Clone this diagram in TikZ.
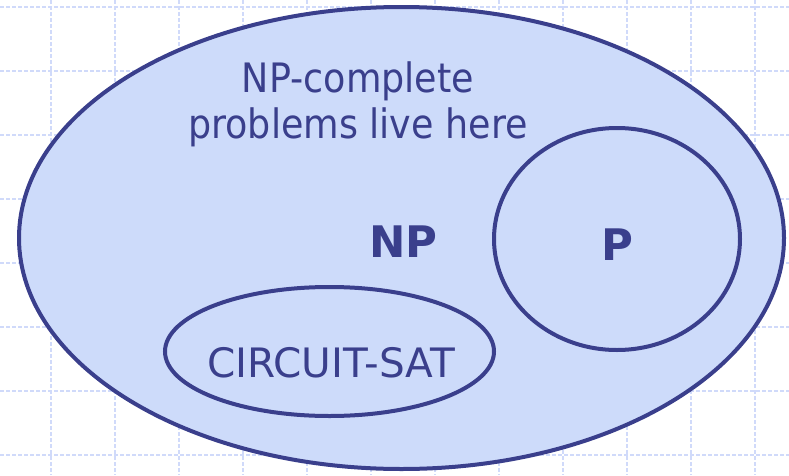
\documentclass[tikz,border=0pt]{standalone}
\usepackage{fontspec}
\setmainfont{DejaVu Sans}
\newfontfamily\narrowfont{DejaVu Sans}[FakeStretch=0.9]

\definecolor{setline}{RGB}{58,63,140}
\definecolor{setfill}{RGB}{205,219,250}
\definecolor{gridblue}{RGB}{208,218,250}

\tikzset{every picture/.style={line width=0.75pt}}
\tikzset{
  gridline/.style={color=gridblue, line width=1pt, dash pattern={on 3pt off 1.5pt}},
  setborder/.style={draw=setline, fill=setfill, line width=3pt},
  setlabel/.style={text=setline, anchor=base, inner sep=0pt}
}

\begin{document}
\begin{tikzpicture}[x=0.75pt,y=0.75pt,yscale=-1,xscale=1]
\useasboundingbox (0,0) rectangle (789,475);

%Background grid
\foreach \gx in {51,115,...,755} \draw [gridline] (\gx,0) -- (\gx,475);
\foreach \gy in {7,71,...,455} \draw [gridline] (0,\gy) -- (789,\gy);

%Shape: Ellipse (NP)
\draw [setborder] (401.5,238) ellipse [x radius=382.5, y radius=231];
%Shape: Circle (P)
\draw [setborder] (617,239) ellipse [x radius=123, y radius=111];
%Shape: Ellipse (CIRCUIT-SAT)
\draw [setborder] (329.5,351.5) ellipse [x radius=164.5, y radius=64.5];

% Text Node
\node (npc) [setlabel, align=center, font=\narrowfont\fontsize{30.4}{34.5}\selectfont] at (358,138) {NP-complete\\problems live here};
% Text Node
\node (np) [setlabel, font=\bfseries\fontsize{32.6}{39}\selectfont] at (403.5,257) {NP};
% Text Node
\node (p) [setlabel, font=\bfseries\fontsize{32.6}{39}\selectfont] at (617.5,260) {P};
% Text Node
\node (csat) [setlabel, font=\fontsize{30.4}{36}\selectfont] at (331,377) {CIRCUIT-SAT};

\end{tikzpicture}
\end{document}
